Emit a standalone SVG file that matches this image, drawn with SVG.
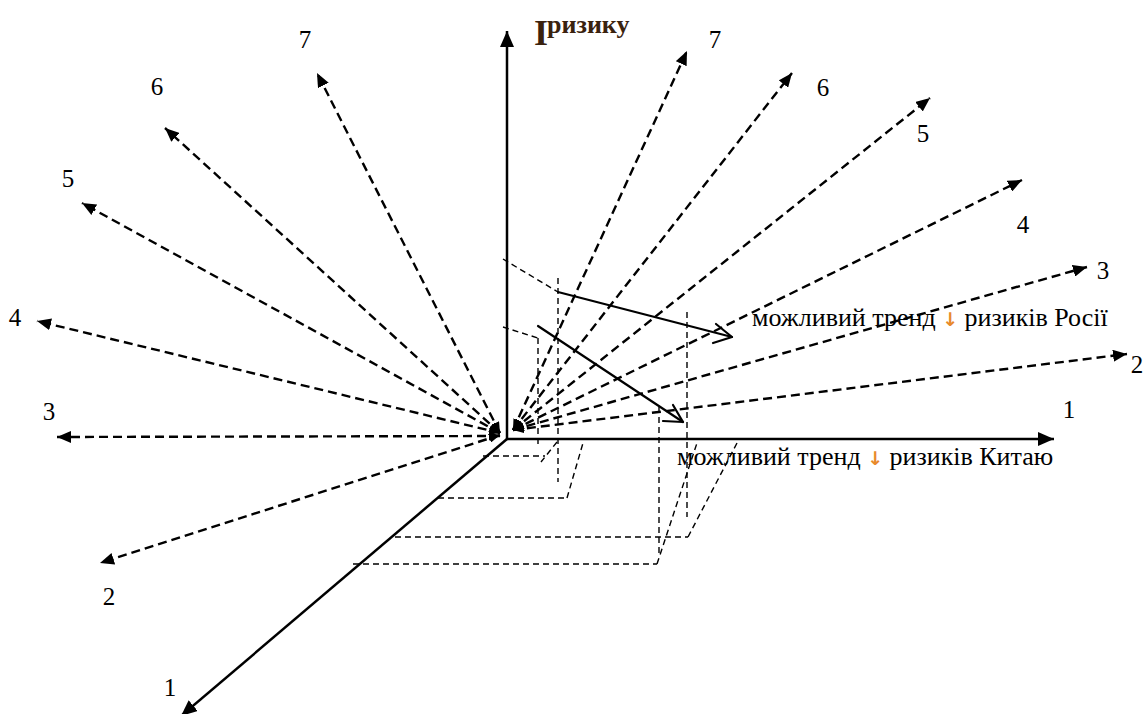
<svg xmlns="http://www.w3.org/2000/svg" width="1148" height="714" viewBox="0 0 1148 714">
<defs>
<style>
.ray{stroke:#000;stroke-width:2.4;stroke-dasharray:9 5;fill:none;marker-end:url(#ah);marker-start:url(#ahs)}
.axis{stroke:#000;stroke-width:2.5;fill:none;marker-end:url(#ax)}
.proj{stroke:#000;stroke-width:1.4;stroke-dasharray:6 4;fill:none}
.trend{stroke:#000;stroke-width:2.2;fill:none;stroke-linecap:round;stroke-linejoin:round}
.lbl{font-family:"Liberation Serif","Times New Roman",serif;font-size:25px;fill:#000}
.txt{font-size:26px}
.num{text-anchor:middle}
.dn{fill:#e8892b;font-family:"DejaVu Sans",sans-serif;font-size:19px;font-weight:bold}
.title{font-family:"Liberation Serif","Times New Roman",serif;font-weight:bold;fill:#3a220e}
</style>
<marker id="ah" viewBox="0 0 14 12" refX="14" refY="6" markerWidth="14" markerHeight="12" markerUnits="userSpaceOnUse" orient="auto-start-reverse"><path d="M0,0L14,6L0,12z" fill="#000"/></marker>
<marker id="ahs" viewBox="0 0 11 9" refX="11" refY="4.5" markerWidth="11" markerHeight="9" markerUnits="userSpaceOnUse" orient="auto-start-reverse"><path d="M0,0L11,4.5L0,9z" fill="#000"/></marker>
<marker id="ax" viewBox="0 0 16 14" refX="16" refY="7" markerWidth="16" markerHeight="14" markerUnits="userSpaceOnUse" orient="auto"><path d="M0,0L16,7L0,14z" fill="#000"/></marker>
</defs>
<rect width="1148" height="714" fill="#fff"/>

<g id="connectors">
  <g id="axes">
    <line class="axis" x1="507" y1="439" x2="507" y2="31"/>
    <line class="axis" x1="506" y1="439" x2="1054" y2="439"/>
    <line class="axis" x1="507" y1="439" x2="181" y2="716"/>
  </g>
  <g id="rays-left">
    <line class="ray" x1="500" y1="433" x2="317" y2="73"/>
    <line class="ray" x1="500" y1="433" x2="165" y2="128"/>
    <line class="ray" x1="500" y1="433" x2="82" y2="203"/>
    <line class="ray" x1="500" y1="433" x2="37" y2="321"/>
    <line class="ray" x1="500" y1="436" x2="57" y2="437"/>
    <line class="ray" x1="500" y1="435" x2="100" y2="563"/>
  </g>
  <g id="rays-right">
    <line class="ray" x1="513" y1="430" x2="687" y2="51"/>
    <line class="ray" x1="513" y1="430" x2="792" y2="73"/>
    <line class="ray" x1="513" y1="430" x2="930" y2="98"/>
    <line class="ray" x1="513" y1="430" x2="1022" y2="180"/>
    <line class="ray" x1="513" y1="430" x2="1087" y2="267"/>
    <line class="ray" x1="513" y1="430" x2="1127" y2="354"/>
  </g>
  <g id="projections">
    <line class="proj" x1="503" y1="259" x2="558" y2="292"/>
    <line class="proj" x1="503" y1="327" x2="538" y2="338"/>
    <line class="proj" x1="538" y1="338" x2="538" y2="446"/>
    <line class="proj" x1="558" y1="278" x2="558" y2="482"/>
    <line class="proj" x1="483" y1="456" x2="545" y2="456"/>
    <line class="proj" x1="557" y1="442" x2="541" y2="462"/>
    <line class="proj" x1="438" y1="498" x2="567" y2="498"/>
    <line class="proj" x1="567" y1="498" x2="583" y2="443"/>
    <line class="proj" x1="659" y1="407" x2="659" y2="557"/>
    <line class="proj" x1="687" y1="312" x2="687" y2="517"/>
    <line class="proj" x1="395" y1="537" x2="688" y2="537"/>
    <line class="proj" x1="688" y1="537" x2="737" y2="443"/>
    <line class="proj" x1="353" y1="564" x2="657" y2="564"/>
    <line class="proj" x1="657" y1="564" x2="697" y2="443"/>
  </g>
  <g id="trends">
    <polyline class="trend" points="558,292 732,337"/>
    <polyline class="trend" points="716,324 732,337 713,343"/>
    <polyline class="trend" points="538,326 683,422"/>
    <polyline class="trend" points="673,405 683,422 663,421"/>
  </g>
</g>

<g id="node-title">
  <text class="title" x="534" y="45" font-size="36">I</text>
  <text class="title" x="547" y="33" font-size="26">ризику</text>
</g>
<g id="node-trend-russia">
  <text class="lbl txt" x="752" y="326">можливий тренд <tspan class="dn">↓</tspan> ризиків Росії</text>
</g>
<g id="node-trend-china">
  <text class="lbl txt" x="677" y="465">можливий тренд <tspan class="dn">↓</tspan> ризиків Китаю</text>
</g>
<g id="labels-left" class="lbl num">
  <text x="305" y="48">7</text>
  <text x="157" y="95">6</text>
  <text x="68" y="187">5</text>
  <text x="15" y="326">4</text>
  <text x="49" y="420">3</text>
  <text x="109" y="605">2</text>
  <text x="170" y="696">1</text>
</g>
<g id="labels-right" class="lbl num">
  <text x="715" y="48">7</text>
  <text x="823" y="96">6</text>
  <text x="923" y="142">5</text>
  <text x="1023" y="233">4</text>
  <text x="1103" y="279">3</text>
  <text x="1137" y="373">2</text>
  <text x="1069" y="418">1</text>
</g>
</svg>
